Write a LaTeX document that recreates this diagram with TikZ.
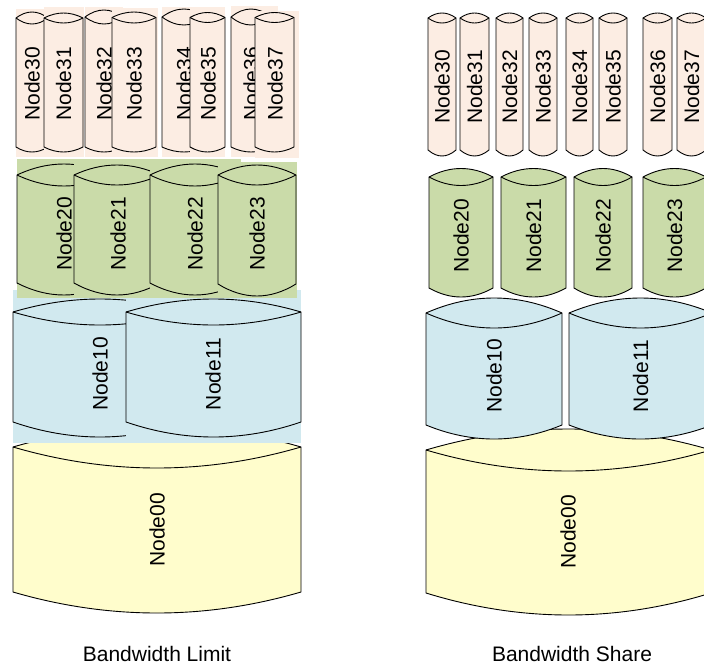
\documentclass[tikz,border=0pt]{standalone}
\usepackage{fontspec}
\setmainfont{Liberation Sans}
\definecolor{cpink}{HTML}{FCEDE3}
\definecolor{cgreen}{HTML}{CADBA9}
\definecolor{cblue}{HTML}{D1E9EF}
\definecolor{cyellow}{HTML}{FFFDCC}
% #1 L, #2 R, #3 T (top corners), #4 B (bottom corners), #5 cap half height, #6 bottom bulge, #7 fill
\newcommand\drawcyl[7]{%
  \pgfmathsetmacro\cA{#1+(#2-#1)/3}%
  \pgfmathsetmacro\cB{#2-(#2-#1)/3}%
  \pgfmathsetmacro\cTu{#3-4*#5/3}%
  \pgfmathsetmacro\cTd{#3+4*#5/3}%
  \pgfmathsetmacro\cBd{#4+4*#6/3}%
  \filldraw[cylline,fill=#7] (#1,#3) .. controls (\cA,\cTu) and (\cB,\cTu) .. (#2,#3) -- (#2,#4) .. controls (\cB,\cBd) and (\cA,\cBd) .. (#1,#4) -- cycle;
  \draw[cylline] (#1,#3) .. controls (\cA,\cTd) and (\cB,\cTd) .. (#2,#3);
}
\newcommand\bgrect[5]{\fill[#5] (#1,#3) rectangle (#2,#4);}
\begin{document}
\begin{tikzpicture}[x=1pt,y=-1pt,
  cylline/.style={draw=black,line width=0.9pt,line join=round},
  lbl/.style={rotate=90,inner sep=0pt,font=\fontsize{21}{25}\selectfont},
  captiontext/.style={anchor=base,inner sep=0pt,font=\fontsize{21}{25}\selectfont}]
\useasboundingbox (0,0) rectangle (704,664);
\clip (0,0) rectangle (704,664);
% ---------------- LEFT: Bandwidth Limit ----------------
\drawcyl{13}{301}{447}{592}{21}{21}{cyellow}
\node[lbl] (l00) at (157,530) {Node00};
% blue row
\bgrect{13}{187}{290}{443}{cblue}
\drawcyl{13}{187}{312}{422}{13}{15}{cblue}
\node[lbl] (l10) at (100,374) {Node10};
\bgrect{126}{301}{290}{443}{cblue}
\drawcyl{126}{301}{312}{422}{13}{15}{cblue}
\node[lbl] (l11) at (213,374) {Node11};
% green row
\bgrect{17}{111}{159}{297.5}{cgreen}
\drawcyl{17}{111}{175}{283}{11}{12}{cgreen}
\node[lbl] (l20) at (64,234) {Node20};
\bgrect{74}{160}{159}{297.5}{cgreen}
\drawcyl{74}{160}{175}{283}{10}{12}{cgreen}
\node[lbl] (l21) at (118,234) {Node21};
\bgrect{150}{241}{159}{297.5}{cgreen}
\drawcyl{150}{240}{175}{283}{11}{12}{cgreen}
\node[lbl] (l22) at (195,234) {Node22};
\bgrect{218}{297}{162}{297.5}{cgreen}
\drawcyl{218}{296}{175}{284}{10}{12}{cgreen}
\node[lbl] (l23) at (257,234) {Node23};
% pink row
\bgrect{16}{48}{9}{157}{cpink}
\drawcyl{16}{48}{18}{147}{6}{5}{cpink}
\node[lbl] (l30) at (32,84) {Node30};
\bgrect{44}{84}{7}{157}{cpink}
\drawcyl{44}{83}{18}{147}{5}{5}{cpink}
\node[lbl] (l31) at (63.5,84) {Node31};
\bgrect{85}{123}{7}{157}{cpink}
\drawcyl{85}{123}{17}{147}{7}{5}{cpink}
\node[lbl] (l32) at (104,84) {Node32};
\bgrect{112}{158}{8}{157}{cpink}
\drawcyl{112}{156}{17.5}{147}{5.5}{5}{cpink}
\node[lbl] (l33) at (134,84) {Node33};
\bgrect{162}{206}{7}{157}{cpink}
\drawcyl{162}{206}{17}{147}{8}{5}{cpink}
\node[lbl] (l34) at (184,84) {Node34};
\bgrect{190}{225}{7}{157}{cpink}
\drawcyl{190}{225}{17.5}{147}{5}{5}{cpink}
\node[lbl] (l35) at (208,84) {Node35};
\bgrect{231}{278}{6}{157}{cpink}
\drawcyl{231}{271}{17}{147}{8}{5}{cpink}
\node[lbl] (l36) at (251,84) {Node36};
\bgrect{255}{299}{11}{158}{cpink}
\drawcyl{255}{294}{17.5}{147}{5}{5}{cpink}
\node[lbl] (l37) at (275,84) {Node37};
\node[captiontext] (limit) at (157,661) {Bandwidth Limit};
% ---------------- RIGHT: Bandwidth Share ----------------
\drawcyl{426}{711}{450}{593}{21}{22}{cyellow}
\node[lbl] (r00) at (568,532) {Node00};
\drawcyl{426}{562}{313}{425}{15}{14}{cblue}
\node[lbl] (r10) at (494,376) {Node10};
\drawcyl{569}{712}{313}{425}{15}{14}{cblue}
\node[lbl] (r11) at (640.5,376) {Node11};
\drawcyl{429}{493}{177}{288}{8.5}{9}{cgreen}
\node[lbl] (r20) at (461,236) {Node20};
\drawcyl{501}{566}{177}{288}{8.5}{9}{cgreen}
\node[lbl] (r21) at (533.5,236) {Node21};
\drawcyl{574}{632}{177}{288}{8.5}{9}{cgreen}
\node[lbl] (r22) at (603,236) {Node22};
\drawcyl{643}{706}{177}{288}{8.5}{9}{cgreen}
\node[lbl] (r23) at (674.5,236) {Node23};
\drawcyl{428}{456}{18}{150}{5}{6}{cpink}
\node[lbl] (r30) at (442,87) {Node30};
\drawcyl{460}{489}{18}{150}{5}{6}{cpink}
\node[lbl] (r31) at (474.5,87) {Node31};
\drawcyl{496}{523}{18}{150}{5}{6}{cpink}
\node[lbl] (r32) at (509.5,87) {Node32};
\drawcyl{529}{557}{18}{150}{5}{6}{cpink}
\node[lbl] (r33) at (543,87) {Node33};
\drawcyl{566}{593}{18}{150}{5}{6}{cpink}
\node[lbl] (r34) at (579.5,87) {Node34};
\drawcyl{599}{627}{18}{150}{5}{6}{cpink}
\node[lbl] (r35) at (613,87) {Node35};
\drawcyl{643}{672}{18}{150}{5}{6}{cpink}
\node[lbl] (r36) at (657.5,87) {Node36};
\drawcyl{677}{706}{18}{150}{5}{6}{cpink}
\node[lbl] (r37) at (691.5,87) {Node37};
\node[captiontext] (share) at (572,661) {Bandwidth Share};
\end{tikzpicture}
\end{document}
